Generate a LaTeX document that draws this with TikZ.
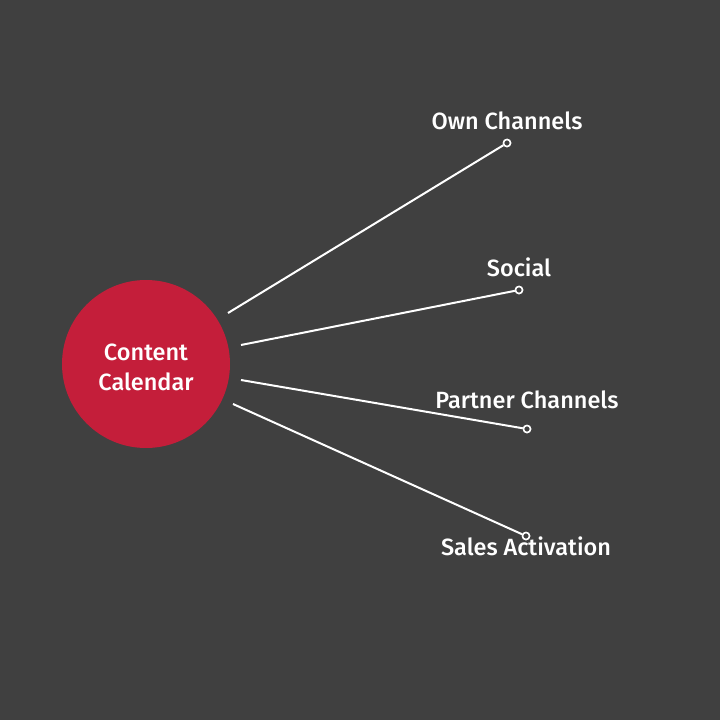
\documentclass[tikz,border=0pt]{standalone}
\usepackage{fontspec}
\setmainfont{Fira Sans}[UprightFont=* Medium]
\definecolor{bg}{HTML}{404040}
\definecolor{hub}{HTML}{C41E3A}
\begin{document}
\begin{tikzpicture}[x=1pt,y=-1pt,
  lbl/.style={text=white,font=\fontsize{23.5}{28}\selectfont,anchor=base,inner sep=0pt},
  conn/.style={draw=white,line width=2pt},
  endpt/.style={circle,draw=white,fill=bg,line width=1.5pt,minimum size=7pt,inner sep=0pt}]
\fill[bg] (0,0) rectangle (720,720);
\useasboundingbox (0,0) rectangle (720,720);
\node[circle,fill=hub,minimum size=168pt,inner sep=0pt] (hub) at (146,364) {};
\node[lbl] (hubA) at (146,360) {Content};
\node[lbl] (hubB) at (146,390) {Calendar};
\coordinate (s1) at (228,313);
\coordinate (s2) at (241,345);
\coordinate (s3) at (241,380);
\coordinate (s4) at (233,404);
\node[endpt] (e1) at (507,143) {};
\node[endpt] (e2) at (519,290) {};
\node[endpt] (e3) at (527,429) {};
\node[endpt] (e4) at (526,536) {};
\draw[conn] (s1) -- (e1);
\draw[conn] (s2) -- (e2);
\draw[conn] (s3) -- (e3);
\draw[conn] (s4) -- (e4);
\node[endpt] at (e1) {};
\node[endpt] at (e2) {};
\node[endpt] at (e3) {};
\node[endpt] at (e4) {};
\node[lbl] (l1) at (507,129) {Own Channels};
\node[lbl] (l2) at (519,276) {Social};
\node[lbl] (l3) at (527,408) {Partner Channels};
\node[lbl] (l4) at (526,555) {Sales Activation};
\end{tikzpicture}
\end{document}
